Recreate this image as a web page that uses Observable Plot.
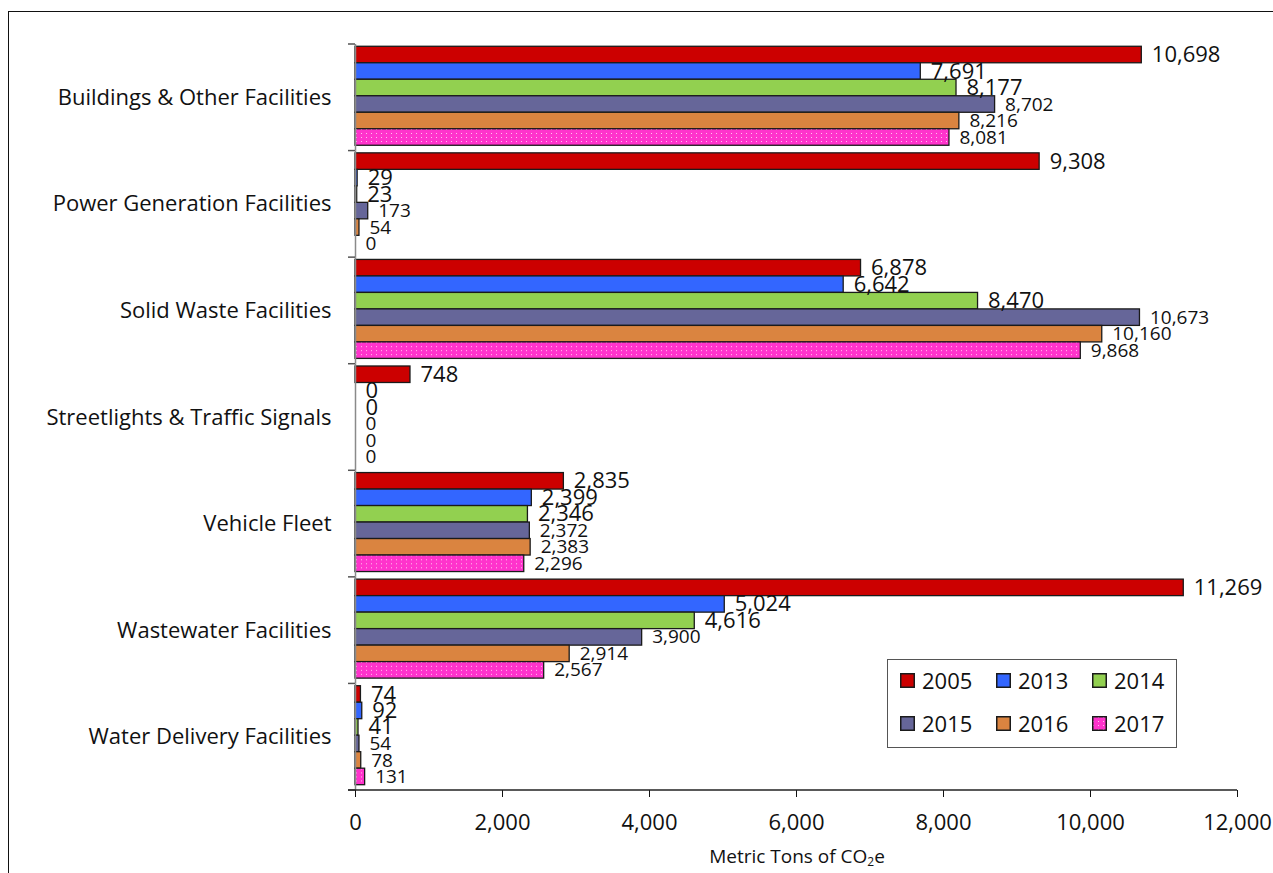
<!DOCTYPE html>
<html>
<head>
<meta charset="utf-8">
<script src="https://cdn.jsdelivr.net/npm/d3@7"></script>
<script src="https://cdn.jsdelivr.net/npm/@observablehq/plot@0.6"></script>
<style>
  html, body { margin: 0; padding: 0; background: #fff; }
  #wrap { position: relative; width: 1273px; height: 873px; overflow: hidden; font-family: "Open Sans", "Noto Sans", sans-serif; }
  #border { position: absolute; left: 8px; top: 11px; width: 1400px; height: 1000px; border-left: 1.5px solid #111; border-top: 1.5px solid #111; }
  #chart { position: absolute; left: 0; top: 0; }
  #chart svg { font-family: "Open Sans", "Noto Sans", sans-serif; }
  g[aria-label="x-axis tick"], g[aria-label="x-axis"] .tick line { stroke: #888; }
  #xlabel { position: absolute; left: 0; width: 1594px; top: 843px; text-align: center; font-size: 19px; color: #111; }
  #xlabel sub { font-size: 12px; vertical-align: -3px; line-height: 0; }
  #legend { position: absolute; left: 887px; top: 659px; width: 290px; height: 89px; border: 1.5px solid #555; background: #fff; box-sizing: border-box; }
  .lg { position: absolute; display: flex; align-items: center; font-size: 22px; color: #111; line-height: 1; }
  .lg svg { margin-right: 7px; }
</style>
</head>
<body>
<div id="wrap">
  <div id="border"></div>
  <div id="chart"></div>
  <div id="xlabel">Metric Tons of CO<sub>2</sub>e</div>
  <div id="legend"></div>
</div>
<script>
const categories = [
  "Buildings & Other Facilities",
  "Power Generation Facilities",
  "Solid Waste Facilities",
  "Streetlights & Traffic Signals",
  "Vehicle Fleet",
  "Wastewater Facilities",
  "Water Delivery Facilities"
];
const years = ["2005", "2013", "2014", "2015", "2016", "2017"];
const v2005 = [10698, 9308, 6878, 748, 2835, 11269, 74];
const v2013 = [7691, 29, 6642, 0, 2399, 5024, 92];
const v2014 = [8177, 23, 8470, 0, 2346, 4616, 41];
const v2015 = [8702, 173, 10673, 0, 2372, 3900, 54];
const v2016 = [8216, 54, 10160, 0, 2383, 2914, 78];
const v2017 = [8081, 0, 9868, 0, 2296, 2567, 131];
const xTicks = [0, 2000, 4000, 6000, 8000, 10000, 12000];

const seriesValues = [v2005, v2013, v2014, v2015, v2016, v2017];
const colors = ["#CC0000", "#3366FF", "#92D050", "#666699", "#DA8440", "url(#dots17)"];
const bigYears = ["2005", "2013", "2014"];

const data = [];
categories.forEach((c, i) => years.forEach((y, j) => data.push({category: c, year: y, value: seriesValues[j][i]})));

const fmt = d3.format(",");

const chart = Plot.plot({
  width: 1273,
  height: 873,
  marginLeft: 355,
  marginRight: 36,
  marginTop: 44,
  marginBottom: 83,
  style: {fontSize: "22px", color: "#111", background: "transparent", overflow: "visible"},
  x: {domain: [0, 12000], ticks: xTicks, tickFormat: fmt, tickSize: 7, tickPadding: 17, label: null, axis: "bottom"},
  y: {domain: years, axis: null, paddingInner: 0, paddingOuter: 0.23, align: 0.3, round: false},
  fy: {domain: categories, axis: "left", label: null, tickSize: 0, tickPadding: 24, paddingInner: 0, paddingOuter: 0, round: false},
  color: {domain: years, range: colors},
  marks: [
    Plot.barX(data, {x: "value", y: "year", fy: "category", fill: "year", stroke: "#1a1a1a", strokeWidth: 1.3}),
    Plot.ruleX([0], {stroke: "#8a8a8a", strokeWidth: 1.5}),
    Plot.text(data, {
      x: "value", y: "year", fy: "category",
      text: d => fmt(d.value),
      textAnchor: "start", dx: 10,
      fontSize: d => bigYears.includes(d.year) ? 22 : 19,
      fill: "#111"
    })
  ]
});

// pattern for 2017 bars
const defs = d3.select(chart).insert("defs", ":first-child");
const pat = defs.append("pattern").attr("id", "dots17").attr("patternUnits", "userSpaceOnUse").attr("width", 5).attr("height", 4);
pat.append("rect").attr("width", 5).attr("height", 4).attr("fill", "#FF33CC");
pat.append("rect").attr("x", 1).attr("y", 1).attr("width", 1).attr("height", 1).attr("fill", "#FFC2EE");

// band boundary ticks and bottom axis line, from Plot's own scales
const fyS = chart.scale("fy");
const xS = chart.scale("x");
const xf = xS.apply ? (v => xS.apply(v)) : d3.scaleLinear(xS.domain, xS.range);
const band = d3.scaleBand(fyS.domain, fyS.range)
  .paddingInner(fyS.paddingInner ?? 0).paddingOuter(fyS.paddingOuter ?? 0).align(fyS.align ?? 0.5);
const bounds = categories.map(c => band(c)).concat([band(categories[categories.length - 1]) + band.bandwidth()]);
const g = d3.select(chart).append("g");
const x0 = xf(0);
g.selectAll("line.bt").data(bounds).join("line")
  .attr("x1", x0 - 7).attr("x2", x0).attr("y1", d => d).attr("y2", d => d)
  .attr("stroke", "#555").attr("stroke-width", 1.5);
g.append("line").attr("x1", x0 - 7).attr("x2", xf(12000))
  .attr("y1", bounds[bounds.length - 1]).attr("y2", bounds[bounds.length - 1])
  .attr("stroke", "#222").attr("stroke-width", 1.5);

document.getElementById("chart").appendChild(chart);

// legend
const lg = document.getElementById("legend");
const colX = [12, 108, 204];
const rowY = [9, 52];
years.forEach((y, i) => {
  const item = document.createElement("div");
  item.className = "lg";
  item.style.left = colX[i % 3] + "px";
  item.style.top = rowY[Math.floor(i / 3)] + "px";
  const fill = i === 5 ? "url(#dotsL)" : colors[i];
  item.innerHTML = `<svg width="15" height="15">` +
    (i === 5 ? `<defs><pattern id="dotsL" patternUnits="userSpaceOnUse" width="5" height="4"><rect width="5" height="4" fill="#FF33CC"/><rect x="1" y="1" width="1" height="1" fill="#FFC2EE"/></pattern></defs>` : "") +
    `<rect x="0.75" y="0.75" width="13.5" height="13.5" fill="${fill}" stroke="#1a1a1a" stroke-width="1.5"/></svg><span>${y}</span>`;
  lg.appendChild(item);
});
</script>
</body>
</html>
